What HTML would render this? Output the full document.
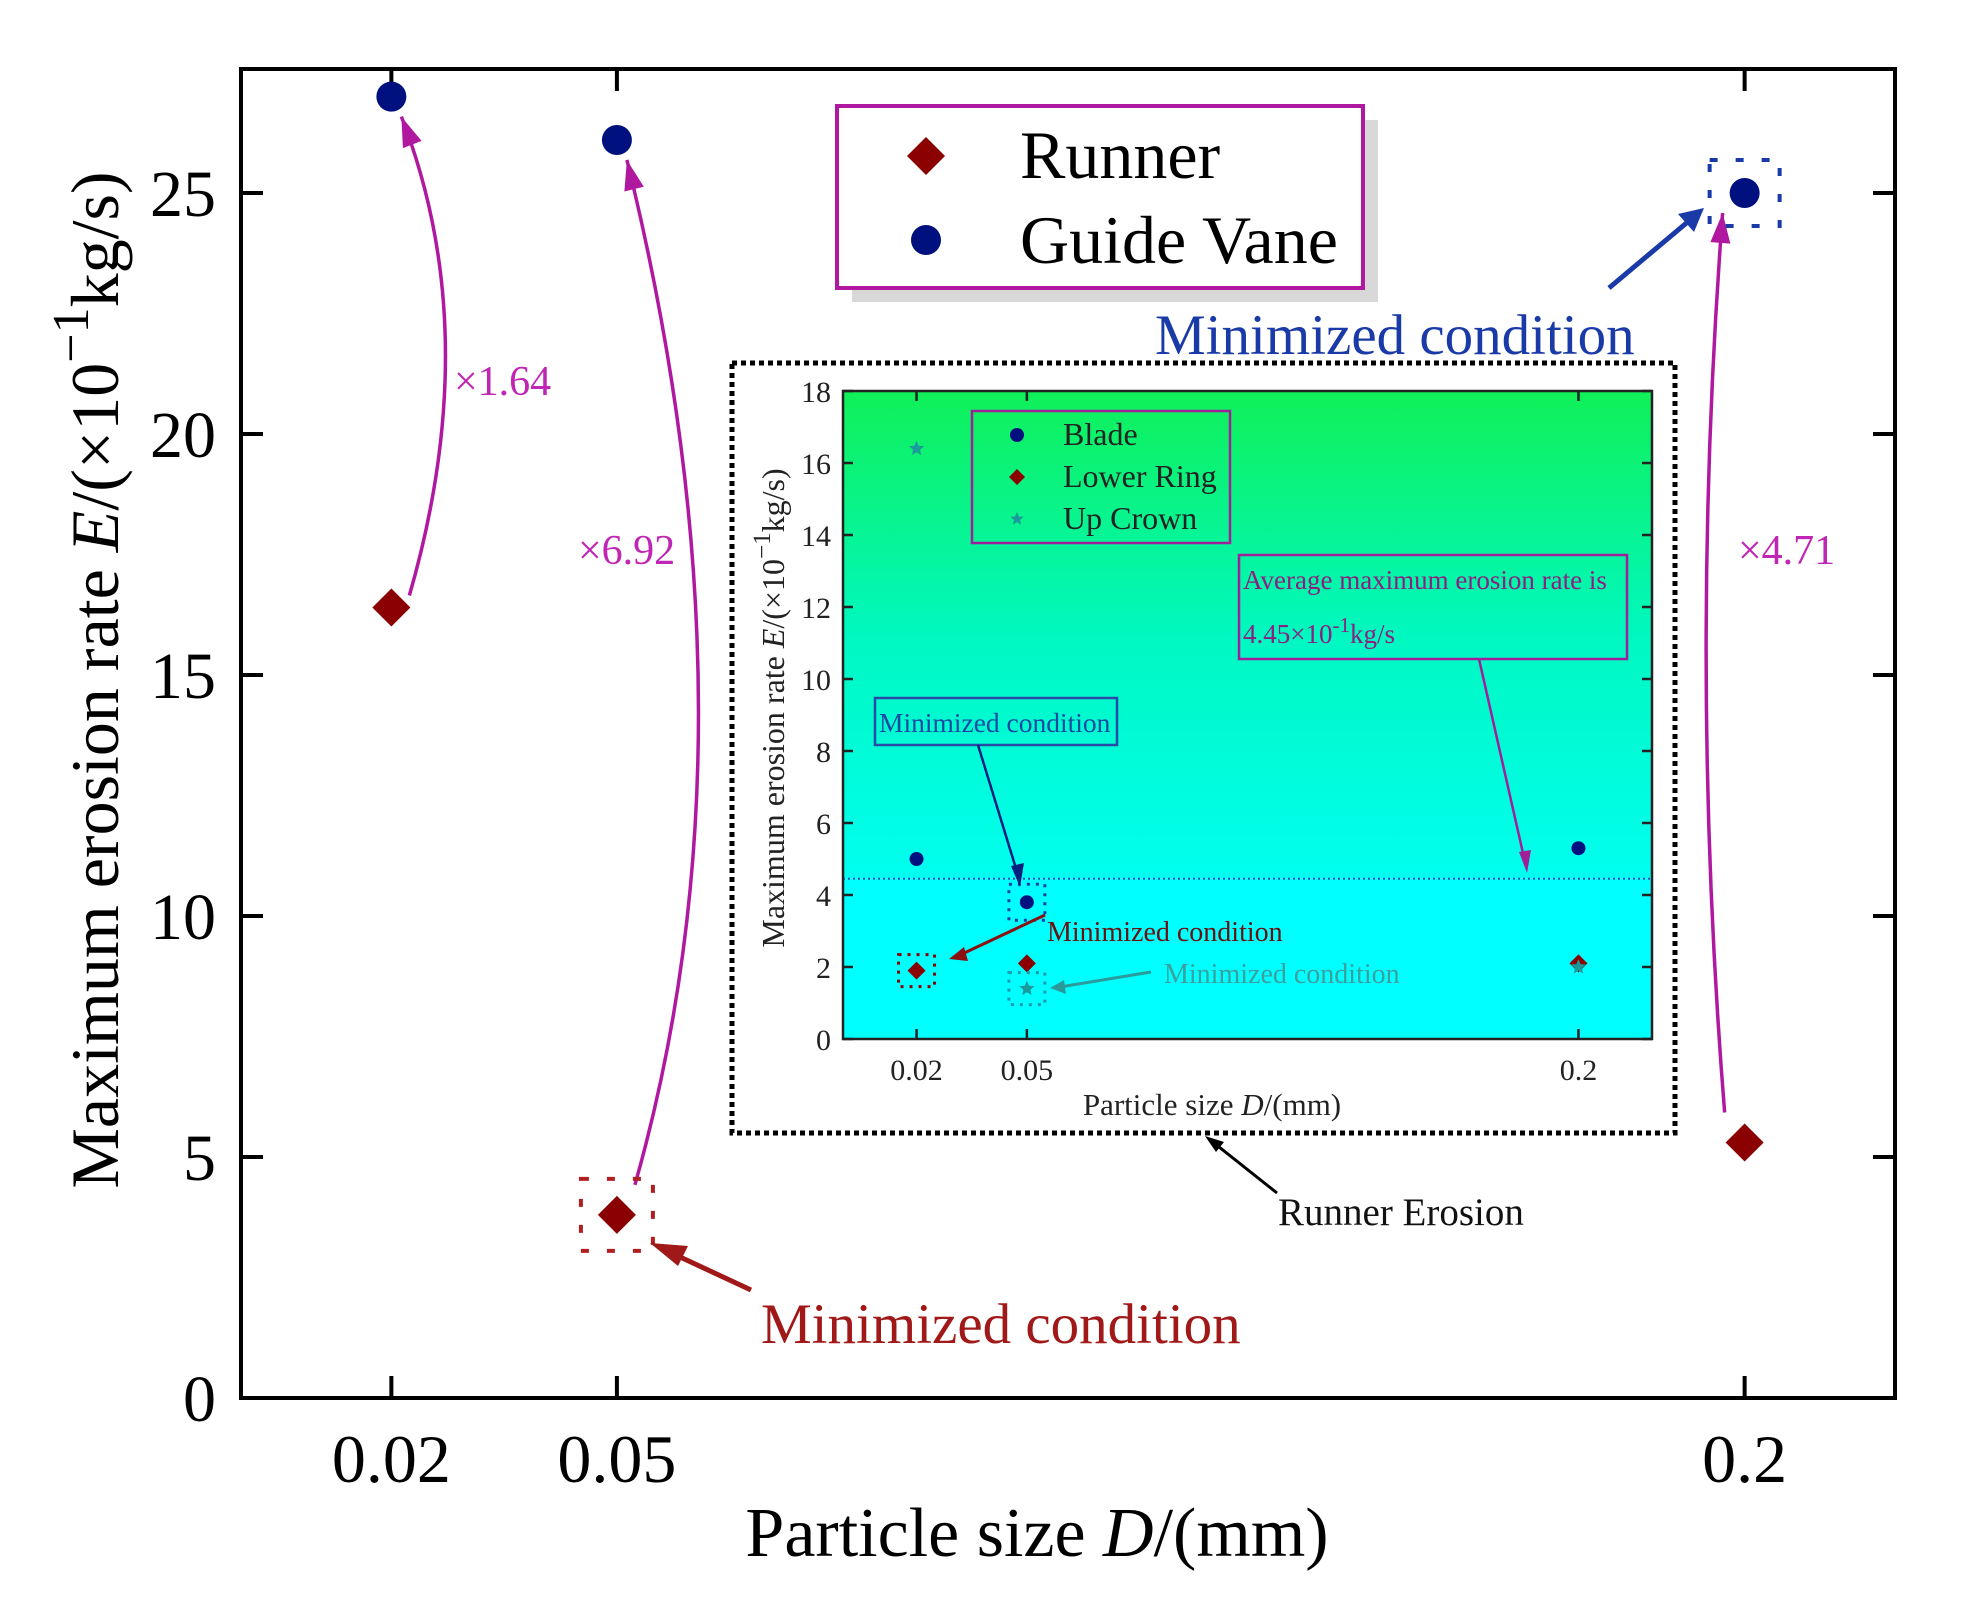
<!DOCTYPE html>
<html><head><meta charset="utf-8"><style>
html,body{margin:0;padding:0;background:#fff;}
svg{display:block;font-family:"Liberation Serif",serif;}
</style></head><body>
<svg id="chart" width="1975" height="1604" viewBox="0 0 1975 1604" xmlns="http://www.w3.org/2000/svg">
<defs>
<linearGradient id="ig" x1="0" y1="0" x2="0" y2="1">
<stop offset="0" stop-color="#10f058"/><stop offset="0.5" stop-color="#00f8c0"/><stop offset="1" stop-color="#00fff0"/>
</linearGradient>
</defs>
<g id="main"></g>
<g id="inset"></g>
</svg>
<script>
const categories=[0.02,0.05,0.2];
const runner=[16.4,3.8,5.3];
const guideVane=[27.0,26.1,25.0];
const yTicks=[0,5,10,15,20,25];
const xTickLabels=["0.02","0.05","0.2"];
const ratios=["×1.64","×6.92","×4.71"];
const blade=[5.0,3.8,5.3];
const lowerRing=[1.9,2.1,2.1];
const upCrown=[16.4,1.4,2.0];
const insetYTicks=[0,2,4,6,8,10,12,14,16,18];
const avgRate=[4.45];

const NS="http://www.w3.org/2000/svg";
function mk(parent,tag,attrs,text){const e=document.createElementNS(NS,tag);for(const k in attrs)e.setAttribute(k,attrs[k]);if(text!==undefined)e.textContent=text;parent.appendChild(e);return e;}
const main=document.getElementById('main');
const inset=document.getElementById('inset');
const L=241,R=1895,T=69,B=1398;
const X=v=>L+v*(R-L)/0.22;
const Y=v=>B-v*48.2;
function diamond(g,cx,cy,r,fill){return mk(g,'path',{d:`M${cx},${cy-r}L${cx+r},${cy}L${cx},${cy+r}L${cx-r},${cy}Z`,fill:fill});}
function star(g,cx,cy,r,fill){let d='';for(let i=0;i<10;i++){const a=-Math.PI/2+i*Math.PI/5;const rr=i%2?r*0.45:r;d+=(i?'L':'M')+(cx+rr*Math.cos(a)).toFixed(1)+','+(cy+rr*Math.sin(a)).toFixed(1);}return mk(g,'path',{d:d+'Z',fill:fill});}

let e;
e=mk(main,'rect',{x:L,y:T,width:R-L,height:B-T,fill:'none',stroke:'#000','stroke-width':4});


yTicks.forEach(v=>{
  e=mk(main,'line',{x1:L,x2:L+22,y1:Y(v),y2:Y(v),stroke:'#000','stroke-width':4});
  
  
  e=mk(main,'line',{x1:R-22,x2:R,y1:Y(v),y2:Y(v),stroke:'#000','stroke-width':4});
  
  
  e=mk(main,'text',{x:216,y:Y(v)+23,'text-anchor':'end','font-size':66},String(v));
  
  
});
categories.forEach((c,i)=>{
  e=mk(main,'line',{x1:X(c),x2:X(c),y1:B,y2:B-22,stroke:'#000','stroke-width':4});
  
  
  e=mk(main,'line',{x1:X(c),x2:X(c),y1:T,y2:T+22,stroke:'#000','stroke-width':4});
  
  
  e=mk(main,'text',{x:X(c),y:1482,'text-anchor':'middle','font-size':68},xTickLabels[i]);
  
  
});
e=mk(main,'text',{x:1037,y:1556,'text-anchor':'middle','font-size':70},'');
e.innerHTML='Particle size <tspan font-style="italic">D</tspan>/(mm)';


e=mk(main,'text',{x:0,y:0,'text-anchor':'middle','font-size':68,transform:'translate(118,680) rotate(-90)'},'');
e.innerHTML='Maximum erosion rate <tspan font-style="italic">E</tspan>/(×10<tspan dy="-30" font-size="52">−1</tspan><tspan dy="30">kg/s)</tspan>';



const ctrl=[[80,0.45],[135,0.55],[-35,0.5]];
categories.forEach((c,i)=>{
  const x1=X(c)+(i===2?-20:18),y1=Y(runner[i])-(i===0?12:30);
  const x2=X(c)+(i===2?-22:10),y2=Y(guideVane[i])+20;
  const cx=(x1+x2)/2+ctrl[i][0], cy=y2+(y1-y2)*ctrl[i][1];
  e=mk(main,'path',{d:`M${x1},${y1} Q${cx},${cy} ${x2},${y2}`,fill:'none',stroke:'#b0189f','stroke-width':3.5});
  
  
  const dx=x2-cx,dy=y2-cy,l=Math.hypot(dx,dy),ux=dx/l,uy=dy/l;
  const bx=x2-ux*30,by=y2-uy*30;
  e=mk(main,'path',{d:`M${x2},${y2}L${bx-uy*10},${by+ux*10}L${bx+uy*10},${by-ux*10}Z`,fill:'#b0189f'});
  
  
});
const rpos=[[454,395],[578,564],[1738,564]];
ratios.forEach((t,i)=>{
  e=mk(main,'text',{x:rpos[i][0],y:rpos[i][1],'font-size':42,fill:'#c026b4'},t);
  
  
});

categories.forEach((c,i)=>{
  e=diamond(main,X(c),Y(runner[i]),19,'#8b0000');
  
  
  e=mk(main,'circle',{cx:X(c),cy:Y(guideVane[i]),r:15,fill:'#00107f'});
  
  
});
e=mk(main,'rect',{x:X(0.05)-36,y:Y(runner[1])-36,width:72,height:72,fill:'none',stroke:'#b02020','stroke-width':4,'stroke-dasharray':'8 18'});


e=mk(main,'rect',{x:X(0.2)-35,y:Y(guideVane[2])-33,width:70,height:66,fill:'none',stroke:'#1a3aa8','stroke-width':4,'stroke-dasharray':'8 18'});


e=mk(main,'line',{x1:751,y1:1290,x2:665,y2:1250,stroke:'#a01818','stroke-width':5});


mk(main,'path',{d:'M650,1243 L688,1246 L678,1266Z',fill:'#a01818'});
e=mk(main,'line',{x1:1609,y1:288,x2:1690,y2:220,stroke:'#1a3aa8','stroke-width':5});


mk(main,'path',{d:'M1704,208 L1694,232 L1678,214Z',fill:'#1a3aa8'});
e=mk(main,'text',{x:1155,y:354,'font-size':57,fill:'#1a3aa8'},'Minimized condition');


e=mk(main,'text',{x:761,y:1343,'font-size':57,fill:'#a01818'},'Minimized condition');



mk(main,'rect',{x:852,y:120,width:526,height:182,fill:'#d8d8d8'});
e=mk(main,'rect',{x:837,y:106,width:526,height:182,fill:'#fff',stroke:'#b0189f','stroke-width':4});


diamond(main,926,156,19,'#8b0000');
mk(main,'circle',{cx:926,cy:240,r:15,fill:'#00107f'});
e=mk(main,'text',{x:1020,y:178,'font-size':68},'Runner');


e=mk(main,'text',{x:1020,y:263,'font-size':68},'Guide Vane');



const iL=843,iR=1652,iT=391,iB=1039;
const IX=v=>iL+v*(iR-iL)/0.22;
const IY=v=>iB-v*(iB-iT)/18;
e=mk(inset,'rect',{x:732,y:363,width:943,height:770,fill:'none',stroke:'#000','stroke-width':5,'stroke-dasharray':'5 4'});


e=mk(inset,'rect',{x:iL,y:iT,width:iR-iL,height:IY(avgRate[0])-iT,fill:'url(#ig)'});


e=mk(inset,'rect',{x:iL,y:IY(avgRate[0]),width:iR-iL,height:iB-IY(avgRate[0]),fill:'#00ffff'});


e=mk(inset,'line',{x1:iL,x2:iR,y1:IY(avgRate[0]),y2:IY(avgRate[0]),stroke:'#3050c0','stroke-width':2,'stroke-dasharray':'2 3'});


e=mk(inset,'rect',{x:iL,y:iT,width:iR-iL,height:iB-iT,fill:'none',stroke:'#222','stroke-width':2.5});


insetYTicks.forEach(v=>{
  mk(inset,'line',{x1:iL,x2:iL+10,y1:IY(v),y2:IY(v),stroke:'#222','stroke-width':2.5});
  mk(inset,'line',{x1:iR-10,x2:iR,y1:IY(v),y2:IY(v),stroke:'#222','stroke-width':2.5});
  e=mk(inset,'text',{x:iL-12,y:IY(v)+11,'text-anchor':'end','font-size':30,fill:'#222'},String(v));
  
  
});
categories.forEach((c,i)=>{
  mk(inset,'line',{x1:IX(c),x2:IX(c),y1:iB,y2:iB-10,stroke:'#222','stroke-width':2.5});
  mk(inset,'line',{x1:IX(c),x2:IX(c),y1:iT,y2:iT+10,stroke:'#222','stroke-width':2.5});
  e=mk(inset,'text',{x:IX(c),y:1080,'text-anchor':'middle','font-size':30,fill:'#222'},xTickLabels[i]);
  
  
});
e=mk(inset,'text',{x:1212,y:1115,'text-anchor':'middle','font-size':31,fill:'#222'},'');
e.innerHTML='Particle size <tspan font-style="italic">D</tspan>/(mm)';


e=mk(inset,'text',{x:0,y:0,'text-anchor':'middle','font-size':32,fill:'#222',transform:'translate(784,708) rotate(-90)'},'');
e.innerHTML='Maximum erosion rate <tspan font-style="italic">E</tspan>/(×10<tspan dy="-14" font-size="25">−1</tspan><tspan dy="14">kg/s)</tspan>';


categories.forEach((c,i)=>{
  e=mk(inset,'circle',{cx:IX(c),cy:IY(blade[i]),r:7,fill:'#00107f'});
  
  
  e=diamond(inset,IX(c),IY(lowerRing[i]),9,'#8b0000');
  
  
  e=star(inset,IX(c),IY(upCrown[i]),8,'#1a9a9a');
  
  
});
mk(inset,'rect',{x:IX(0.05)-18,y:IY(blade[1])-18,width:36,height:36,fill:'none',stroke:'#1a3aa8','stroke-width':3,'stroke-dasharray':'3 6'});
mk(inset,'rect',{x:IX(0.02)-18,y:IY(lowerRing[0])-16,width:36,height:32,fill:'none',stroke:'#8b0000','stroke-width':3,'stroke-dasharray':'3 6'});
mk(inset,'rect',{x:IX(0.05)-18,y:IY(upCrown[1])-16,width:36,height:32,fill:'none',stroke:'#1a9ab0','stroke-width':3,'stroke-dasharray':'3 6'});
e=mk(inset,'rect',{x:972,y:411,width:258,height:132,fill:'none',stroke:'#a0209a','stroke-width':2.5});


mk(inset,'circle',{cx:1017,cy:435,r:7,fill:'#00107f'});
diamond(inset,1017,477,8,'#8b0000');
star(inset,1017,519,7,'#1a9a9a');
[['Blade',445],['Lower Ring',487],['Up Crown',529]].forEach(t=>{
  e=mk(inset,'text',{x:1063,y:t[1],'font-size':32,fill:'#222'},t[0]);
  
  
});
e=mk(inset,'rect',{x:1239,y:555,width:388,height:104,fill:'none',stroke:'#a0209a','stroke-width':2.5});


mk(inset,'text',{x:1243,y:589,'font-size':27,fill:'#8a2080'},'Average maximum erosion rate is');
e=mk(inset,'text',{x:1243,y:643,'font-size':27,fill:'#8a2080'},'');
e.innerHTML='4.45×10<tspan dy="-11" font-size="21">-1</tspan><tspan dy="11">kg/s</tspan>';
mk(inset,'line',{x1:1479,y1:659,x2:1525,y2:862,stroke:'#a0209a','stroke-width':2.5});
mk(inset,'path',{d:'M1527,873 L1519,852 L1531,850Z',fill:'#a0209a'});
e=mk(inset,'rect',{x:875,y:698,width:242,height:47,fill:'none',stroke:'#2a4aa8','stroke-width':2.5});


mk(inset,'text',{x:879,y:732,'font-size':27.5,fill:'#1a4aa0'},'Minimized condition');
mk(inset,'line',{x1:978,y1:745,x2:1018,y2:875,stroke:'#00207f','stroke-width':2.5});
mk(inset,'path',{d:'M1020,887 L1011,866 L1024,863Z',fill:'#00207f'});
mk(inset,'text',{x:1047,y:941,'font-size':28,fill:'#6a1010'},'Minimized condition');
mk(inset,'line',{x1:1045,y1:915,x2:960,y2:955,stroke:'#8b1010','stroke-width':3});
mk(inset,'path',{d:'M949,959 L964,947 L968,961Z',fill:'#8b1010'});
mk(inset,'text',{x:1164,y:983,'font-size':28,fill:'#3aa0a0'},'Minimized condition');
mk(inset,'line',{x1:1151,y1:972,x2:1060,y2:987,stroke:'#2a9a9a','stroke-width':3});
mk(inset,'path',{d:'M1050,988 L1064,980 L1066,994Z',fill:'#2a9a9a'});
e=mk(inset,'text',{x:1278,y:1225,'font-size':39,fill:'#111'},'Runner Erosion');


mk(inset,'line',{x1:1277,y1:1193,x2:1214,y2:1143,stroke:'#000','stroke-width':3});
mk(inset,'path',{d:'M1205,1136 L1224,1142 L1216,1152Z',fill:'#000'});
</script>
</body></html>
